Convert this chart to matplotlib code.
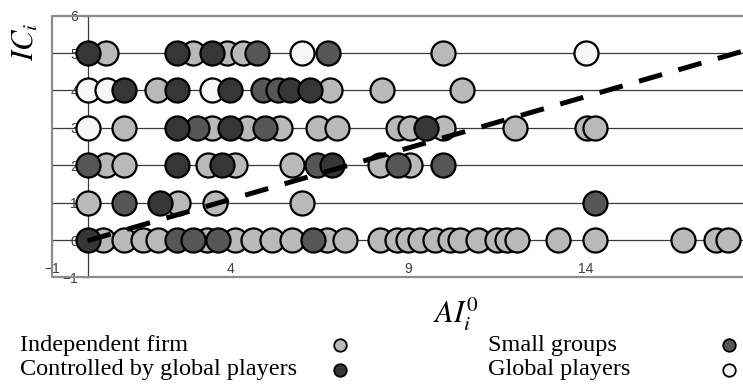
import matplotlib
matplotlib.use("Agg")
import matplotlib.pyplot as plt
from matplotlib.lines import Line2D

plt.rcParams["mathtext.fontset"] = "stix"

# Firms by ownership type: AI_i^0 (x) and IC_i (y)
indep_x = [0.43, 1.02, 1.55, 1.98, 3.35, 4.14, 4.65, 5.18, 5.74, 6.73, 7.23, 8.21, 8.69,
           9.0, 9.34, 9.76, 10.18, 10.46, 10.97, 11.5, 11.78, 12.06, 13.21, 14.25, 16.72,
           17.65, 17.99,
           0.0, 2.54, 3.58, 6.02,
           0.52, 1.02, 3.38, 4.14, 5.74, 8.21, 9.06,
           1.02, 3.49, 4.48, 5.41, 6.47, 7.0, 8.72, 9.06, 9.98, 12.0, 14.03, 14.25,
           1.95, 6.81, 8.27, 10.51,
           0.52, 2.96, 3.92, 4.37, 9.98]
indep_y = [0] * 27 + [1] * 4 + [2] * 7 + [3] * 12 + [4] * 4 + [5] * 5

controlled_x = [0.0, 2.03, 2.52, 3.78, 6.87, 2.52, 4.0, 9.5,
                1.02, 2.52, 4.0, 5.69, 6.25, 0.0, 2.52, 3.49]
controlled_y = [0, 1, 2, 2, 2, 3, 3, 3, 4, 4, 4, 4, 4, 5, 5, 5]

small_x = [2.51, 2.96, 3.66, 6.33, 1.02, 14.25, 0.0, 6.44, 8.72, 9.98,
           3.07, 4.98, 4.93, 5.35, 4.76, 6.75]
small_y = [0, 0, 0, 0, 1, 1, 2, 2, 2, 2, 3, 3, 4, 4, 5, 5]

global_x = [0.0, 0.0, 0.55, 3.49, 6.02, 14.0]
global_y = [3, 4, 4, 4, 5, 5]

# Linear trend line end points
trend_x = [0.0, 18.41]
trend_y = [-0.02, 5.05]

x_ticks = [-1, 4, 9, 14]
y_ticks = [-1, 0, 1, 2, 3, 4, 5, 6]

C_INDEP, C_CTRL, C_SMALL, C_GLOBAL = "#b9b9b9", "#363636", "#565656", "#f6f6f6"

series = [
    ("Independent firm", indep_x, indep_y, C_INDEP),
    ("Global players", global_x, global_y, C_GLOBAL),
    ("Small groups", small_x, small_y, C_SMALL),
    ("Controlled by global players", controlled_x, controlled_y, C_CTRL),
]

W, H = 743, 389
fig = plt.figure(figsize=(W / 100, H / 100), dpi=100)
ax = fig.add_axes([52 / W, (H - 277.4) / H, (W - 52) / W, (277.4 - 15.6) / H])
ax.set_xlim(-1, 18.41)
ax.set_ylim(-1, 6)

for sp in ax.spines.values():
    sp.set_visible(False)
for side in ("left", "bottom"):
    ax.spines[side].set_visible(True)
    ax.spines[side].set_position(("data", 0))
    ax.spines[side].set_color("#3a3a3a")
    ax.spines[side].set_linewidth(0.9)

for yv in range(1, 6):
    ax.axhline(yv, color="#3a3a3a", lw=0.9, zorder=0.8)

ax.set_xticks(x_ticks)
ax.set_yticks(y_ticks)
ax.tick_params(axis="both", direction="out", length=4, width=0.9, color="#3a3a3a",
               labelsize=10, labelcolor="#3c3c3c")
ax.tick_params(axis="y", pad=3)
ax.tick_params(axis="x", pad=12)
for lab in ax.get_xticklabels() + ax.get_yticklabels():
    lab.set_family("Liberation Sans")

# outer frame (left, top, bottom)
frame = Line2D([1.02, 0, 0, 1.02], [1, 1, 0, 0], transform=ax.transAxes,
               color="#8c8c8c", lw=1.6, clip_on=False, zorder=5)
ax.add_line(frame)

for i, (name, xs, ys, col) in enumerate(series):
    ax.scatter(xs, ys, s=300, c=col, edgecolors="black", linewidths=1.6,
               zorder=3 + i * 0.1, clip_on=False)

ax.plot(trend_x, trend_y, color="black", lw=3.6, linestyle=(0, (4.8, 3.4)),
        solid_capstyle="butt", dash_capstyle="butt", zorder=4)

# axis titles
fig.text(25 / W, 1 - 42 / H, r"$IC_i$", rotation=90, fontsize=22,
         ha="center", va="center")
fig.text(456 / W, 1 - 314 / H, r"$AI_i^0$", fontsize=22, ha="center", va="center")

# legend block under the plot
legend_items = [
    ("Independent firm", C_INDEP, 20, 345, 340),
    ("Controlled by global players", C_CTRL, 20, 370, 340),
    ("Small groups", C_SMALL, 488, 345, 729),
    ("Global players", C_GLOBAL, 488, 370, 729),
]
for text, col, tx, ty, mx in legend_items:
    fig.text(tx / W, 1 - ty / H, text, family="Liberation Serif", fontsize=17.5,
             ha="left", va="center")
    fig.add_artist(Line2D([mx / W], [1 - ty / H], marker="o", ms=9, mfc=col,
                          mec="black", mew=1.3, transform=fig.transFigure))

fig.savefig("out.png", dpi=100)
